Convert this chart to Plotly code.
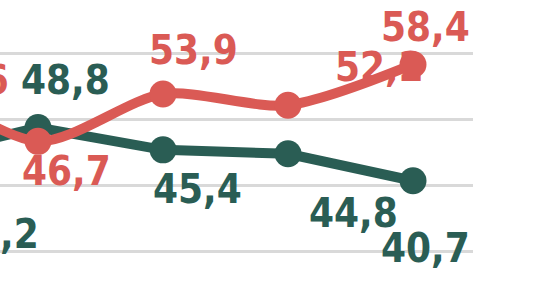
import plotly.graph_objects as go

# ---- data ----
periods = [0, 1, 2, 3, 4]
green_values = [44.2, 48.8, 45.4, 44.8, 40.7]
red_values = [56.6, 46.7, 53.9, 52.2, 58.4]
green_labels = ["44,2", "48,8", "45,4", "44,8", "40,7"]
red_labels = ["56,6", "46,7", "53,9", "52,2", "58,4"]
grid_values = [30, 40, 50, 60]

# ---- style ----
W, H = 537, 282
M_L, M_R, M_T, M_B = 0, 64, 0, 0
X_RANGE = [0.696, 4.48]
Y_RANGE = [25.29, 68.21]
GREEN = "#2A5D54"
RED = "#DA5A55"
GRID = "#D9D9D9"
FONT = "DejaVu Sans Condensed, Roboto, sans-serif"
FONT_SIZE = 40

plot_w = W - M_L - M_R
plot_h = H - M_T - M_B
px_per_x = plot_w / (X_RANGE[1] - X_RANGE[0])
px_per_y = plot_h / (Y_RANGE[1] - Y_RANGE[0])

# label offsets from each point, in pixels (dx right, dy down);
# the first (cut-off) labels are anchored by their right edge
green_off = [(127, 76), (27, -48), (34, 39), (65, 59), (12, 67)]
red_off = [(97, 4), (28, 30), (30, -44), (91, -38), (12, -37)]
anchors = ["right", "center", "center", "center", "center"]


def label_pos(xs, ys, offs):
    lx = [x + o[0] / px_per_x for x, o in zip(xs, offs)]
    ly = [y - o[1] / px_per_y for y, o in zip(ys, offs)]
    return lx, ly


fig = go.Figure()

fig.add_trace(go.Scatter(
    x=periods, y=green_values, mode="lines+markers",
    line=dict(color=GREEN, width=10),
    marker=dict(color=GREEN, size=27),
    hoverinfo="skip",
))
fig.add_trace(go.Scatter(
    x=periods, y=red_values, mode="lines+markers",
    line=dict(color=RED, width=10, shape="spline", smoothing=0.8),
    marker=dict(color=RED, size=27),
    hoverinfo="skip",
))

annotations = []
for labels, values, offs, color in [
    (green_labels, green_values, green_off, GREEN),
    (red_labels, red_values, red_off, RED),
]:
    lx, ly = label_pos(periods, values, offs)
    for t, x, y, a in zip(labels, lx, ly, anchors):
        annotations.append(dict(
            x=x, y=y, xref="x", yref="y", text=t, showarrow=False,
            xanchor=a, yanchor="middle", borderpad=0,
            font=dict(family=FONT, size=FONT_SIZE, color=color, weight="bold"),
        ))

fig.update_layout(
    width=W, height=H,
    margin=dict(l=M_L, r=M_R, t=M_T, b=M_B, pad=0),
    paper_bgcolor="white", plot_bgcolor="white",
    showlegend=False,
    annotations=annotations,
    xaxis=dict(range=X_RANGE, showgrid=False, zeroline=False,
               showticklabels=False, showline=False, fixedrange=True),
    yaxis=dict(range=Y_RANGE, tickvals=grid_values, showgrid=True,
               gridcolor=GRID, gridwidth=3, zeroline=False,
               showticklabels=False, showline=False, fixedrange=True),
)

fig.write_html("out.html", config={"displayModeBar": False})
